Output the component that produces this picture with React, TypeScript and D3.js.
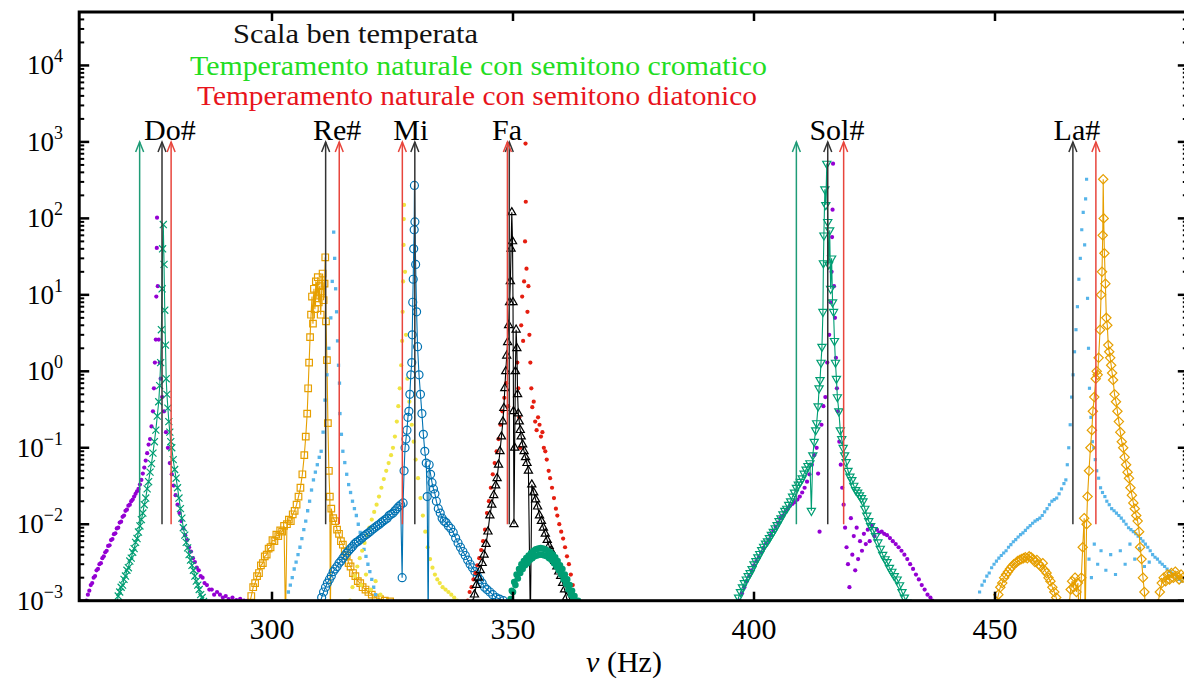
import React, { useEffect, useRef } from "react";
import * as d3 from "d3";

// --- data: [frequency (Hz), amplitude] ---
const DO_PURPLE = [
  [261.5, 1.0e-3], [261.8, 1.2e-3], [262.1, 1.35e-3], [262.4, 1.6e-3], [262.7, 1.7e-3], [263.0, 2.0e-3],
  [263.3, 2.1e-3], [263.6, 2.5e-3], [263.9, 2.6e-3], [264.2, 3.0e-3], [264.5, 3.1e-3], [264.8, 3.6e-3],
  [265.1, 3.8e-3], [265.4, 4.3e-3], [265.7, 4.5e-3], [266.0, 5.2e-3], [266.3, 5.3e-3], [266.6, 6.2e-3],
  [266.9, 6.4e-3], [267.2, 7.4e-3], [267.5, 7.6e-3], [267.8, 8.8e-3], [268.1, 9.0e-3], [268.4, 1.05e-2],
  [268.7, 1.08e-2], [269.0, 1.25e-2], [269.3, 1.3e-2], [269.6, 1.5e-2], [269.9, 1.55e-2], [270.2, 1.75e-2],
  [270.5, 1.8e-2], [270.8, 2.0e-2], [271.1, 2.1e-2], [271.4, 2.3e-2], [271.7, 2.5e-2], [272.0, 2.7e-2],
  [272.3, 2.9e-2], [272.6, 3.3e-2], [272.9, 3.8e-2], [273.2, 4.6e-2], [273.5, 5.5e-2], [273.8, 6.8e-2],
  [274.1, 8.5e-2], [274.4, 0.11], [274.7, 0.13], [275.0, 0.19], [275.3, 0.3], [275.5, 0.6], [275.7, 1.3],
  [275.9, 2.6], [276.0, 9.5], [276.1, 41], [276.15, 102], [276.3, 13], [276.5, 2.6], [276.7, 1.3],
  [276.9, 0.8], [277.2, 0.46], [277.6, 0.3], [278.0, 0.16], [278.4, 0.1], [278.8, 0.063], [279.2, 0.045],
  [279.6, 0.032], [280.0, 0.024], [280.4, 0.018], [280.8, 0.014], [281.2, 0.011], [281.6, 0.0088],
  [282.0, 0.0072], [282.4, 0.0062], [282.8, 0.005], [283.2, 0.0044], [283.6, 0.0036], [284.0, 0.0032],
  [284.4, 0.0027], [284.8, 0.0025], [285.2, 0.0021], [285.6, 0.002], [286.0, 0.0017], [286.5, 0.0016],
  [287.0, 0.0014], [287.5, 0.0014], [288.0, 0.0012], [288.6, 0.0013], [289.2, 0.0012], [289.8, 0.0011],
  [290.4, 0.00115], [291.0, 0.00105], [291.8, 0.0011], [292.6, 0.00102], [293.4, 0.00106], [294.2, 0.001],
  [295.0, 0.001],
];

const DO_GREEN = [
  [267.8, 9e-4], [268.1, 1.15e-3], [268.4, 1.3e-3], [268.7, 1.5e-3], [269.0, 1.6e-3], [269.3, 1.9e-3],
  [269.6, 2.1e-3], [269.9, 2.5e-3], [270.2, 2.7e-3], [270.5, 3.3e-3], [270.8, 3.6e-3], [271.1, 4.3e-3],
  [271.4, 4.8e-3], [271.7, 5.8e-3], [272.0, 6.5e-3], [272.3, 7.9e-3], [272.6, 9.5e-3], [272.9, 1.15e-2],
  [273.2, 1.4e-2], [273.5, 1.8e-2], [273.8, 2.2e-2], [274.1, 2.9e-2], [274.4, 3.6e-2], [274.7, 4.8e-2],
  [275.0, 6.2e-2], [275.3, 0.085], [275.6, 0.12], [275.9, 0.17], [276.2, 0.26], [276.5, 0.4],
  [276.7, 0.65], [276.9, 1.3], [277.05, 3.5], [277.2, 12], [277.3, 40], [277.45, 83], [277.6, 25],
  [277.75, 6.3], [277.9, 2.2], [278.05, 0.8], [278.2, 0.5], [278.4, 0.33], [278.6, 0.22], [278.8, 0.16],
  [279.0, 0.12], [279.2, 0.1], [279.5, 0.07], [279.8, 0.052], [280.1, 0.04], [280.4, 0.03], [280.7, 0.022],
  [281.0, 0.016], [281.3, 0.012], [281.6, 0.009], [281.9, 0.0072], [282.2, 0.0058], [282.5, 0.0049],
  [282.8, 0.004], [283.1, 0.0034], [283.4, 0.0029], [283.7, 0.0025], [284.0, 0.0021], [284.3, 0.0018],
  [284.6, 0.0016], [284.9, 0.0014], [285.2, 0.0012], [285.5, 0.0011], [285.8, 0.00098], [286.1, 0.0009],
];

const RE_ORANGE = [
  [295.3, 9e-4], [295.7, 1.15e-3], [296.1, 1.5e-3], [296.5, 1.7e-3], [296.9, 2.1e-3], [297.3, 2.3e-3],
  [297.7, 2.9e-3], [298.1, 3.1e-3], [298.5, 3.8e-3], [298.9, 4.0e-3], [299.3, 4.8e-3], [299.7, 5.0e-3],
  [300.1, 6.2e-3], [300.5, 6.0e-3], [300.9, 7.3e-3], [301.3, 7.0e-3], [301.7, 8.3e-3], [302.1, 8.0e-3],
  [302.5, 9.5e-3], [302.8, 5e-4], [303.1, 1.0e-2], [303.5, 1.15e-2], [303.9, 1.1e-2], [304.3, 1.35e-2],
  [304.7, 1.5e-2], [305.1, 1.8e-2], [305.5, 2.3e-2], [305.9, 3.0e-2], [306.3, 4.5e-2], [306.7, 8e-2],
  [307.0, 0.14], [307.3, 0.28], [307.5, 0.6], [307.7, 1.3], [307.9, 2.8], [308.1, 5.5], [308.3, 9.5],
  [308.5, 4.2], [308.7, 12], [308.9, 6.5], [309.1, 15], [309.3, 9], [309.5, 17], [309.7, 8], [309.9, 13],
  [310.1, 5.5], [310.3, 11], [310.5, 19], [310.7, 8.5], [310.9, 14], [311.05, 31], [311.2, 4.5],
  [311.4, 1.4], [311.6, 0.21], [311.8, 0.05], [312.0, 0.023], [312.1, 5e-4], [312.3, 0.016],
  [312.7, 0.012], [313.1, 0.011], [313.5, 0.0085], [313.9, 0.0075], [314.3, 0.006], [314.7, 0.0054],
  [315.1, 0.0044], [315.5, 0.0039], [315.9, 0.0031], [316.3, 0.0028], [316.8, 0.0023], [317.3, 0.0021],
  [317.8, 0.0018], [318.3, 0.0017], [318.8, 0.0015], [319.4, 0.0014], [320.0, 0.0013], [320.7, 0.0012],
  [321.5, 0.0011], [322.4, 0.00105], [323.4, 0.001], [324.5, 0.00098],
];

const RE_BLUE = [
  [303.0, 1e-3], [303.4, 1.3e-3], [303.8, 1.6e-3], [304.2, 2.0e-3], [304.6, 2.6e-3], [305.0, 3.2e-3],
  [305.4, 4.0e-3], [305.8, 5.0e-3], [306.2, 6.5e-3], [306.6, 8.5e-3], [307.0, 1.1e-2], [307.4, 1.5e-2],
  [307.8, 2.0e-2], [308.2, 2.8e-2], [308.6, 3.8e-2], [309.0, 4.8e-2], [309.4, 6.0e-2], [309.8, 7.5e-2],
  [310.2, 0.09], [310.6, 0.16], [311.0, 0.42], [311.4, 0.9], [311.8, 2], [312.2, 5], [312.5, 15],
  [312.8, 66], [313.0, 30], [313.2, 12], [313.4, 6], [313.6, 2.5], [313.8, 1.2], [314.0, 0.7],
  [314.1, 0.28], [314.4, 0.15], [314.7, 0.09], [315.1, 0.064], [315.5, 0.045], [315.9, 0.033],
  [316.3, 0.026], [316.7, 0.02], [317.1, 0.016], [317.5, 0.013], [317.9, 0.01], [318.3, 0.0078],
  [318.7, 0.006], [319.1, 0.0047], [319.5, 0.0038], [319.9, 0.003], [320.3, 0.0024], [320.7, 0.0019],
  [321.1, 0.0015], [321.5, 0.0012], [321.9, 0.001],
];

const MI_YELLOW = [
  [316.2, 1e-3], [316.7, 1.5e-3], [317.2, 2.1e-3], [317.7, 2.8e-3], [318.2, 3.6e-3], [318.5, 1.6e-3],
  [318.7, 4.5e-3], [319.2, 5.7e-3], [319.5, 2.2e-3], [319.7, 7.2e-3], [320.2, 9e-3], [320.5, 1.4e-3],
  [320.7, 1.15e-2], [321.2, 1.45e-2], [321.5, 1.8e-3], [321.7, 1.8e-2], [322.2, 2.3e-2], [322.5, 1.2e-3],
  [322.7, 3e-2], [323.2, 3.9e-2], [323.7, 5e-2], [324.2, 6.3e-2], [324.7, 8e-2], [325.1, 0.1],
  [325.5, 0.14], [325.9, 0.22], [326.2, 0.35], [326.5, 0.6], [326.8, 1.2], [327.0, 2.5], [327.1, 6],
  [327.2, 15], [327.3, 45], [327.35, 98], [327.4, 150], [327.6, 20], [327.8, 3], [328.1, 0.8],
  [328.5, 0.4], [329.0, 0.2], [329.4, 0.12], [329.8, 0.07], [330.3, 0.04], [330.8, 0.022], [331.3, 0.013],
  [331.8, 0.008], [332.3, 0.005], [332.8, 0.0035], [333.3, 0.0027], [333.8, 0.0022], [334.3, 0.0019],
  [334.8, 0.0017], [335.4, 0.0015], [336.0, 0.0014], [336.6, 0.0013], [337.2, 0.0012], [337.8, 0.0011],
  [338.4, 0.001],
];

const MI_BLUE = [
  [309.9, 9e-4], [310.3, 1.1e-3], [310.7, 1.3e-3], [311.1, 1.5e-3], [311.5, 1.7e-3], [311.9, 1.9e-3],
  [312.3, 2.1e-3], [312.7, 2.4e-3], [313.1, 2.6e-3], [313.5, 2.8e-3], [313.9, 3.1e-3], [314.3, 3.3e-3],
  [314.7, 3.6e-3], [315.1, 3.9e-3], [315.5, 4.2e-3], [315.9, 4.5e-3], [316.3, 4.8e-3], [316.7, 5.1e-3],
  [317.1, 5.5e-3], [317.5, 5.8e-3], [317.9, 6.0e-3], [318.3, 6.3e-3], [318.7, 6.6e-3], [319.1, 7.0e-3],
  [319.5, 7.3e-3], [319.9, 7.6e-3], [320.3, 8.0e-3], [320.7, 8.4e-3], [321.1, 8.8e-3], [321.5, 9.2e-3],
  [321.9, 9.6e-3], [322.3, 1.0e-2], [322.7, 1.05e-2], [323.1, 1.1e-2], [323.5, 1.15e-2], [323.9, 1.2e-2],
  [324.3, 1.3e-2], [324.7, 1.35e-2], [325.1, 1.4e-2], [325.5, 1.5e-2], [325.9, 1.6e-2], [326.3, 1.7e-2],
  [326.7, 1.8e-2], [327.0, 2.0e-3], [327.2, 1.9e-2], [327.4, 0.05], [327.6, 0.1], [327.8, 0.13],
  [328.0, 0.17], [328.2, 0.25], [328.4, 0.3], [328.6, 0.5], [328.8, 0.9], [329.0, 1.3], [329.1, 3],
  [329.2, 8], [329.3, 16], [329.4, 40], [329.5, 71], [329.55, 270], [329.65, 90], [329.8, 25], [330.0, 6],
  [330.2, 2.1], [330.5, 0.9], [330.8, 0.5], [331.1, 0.28], [331.4, 0.15], [331.7, 0.09], [332.0, 0.063],
  [332.2, 0.023], [332.4, 5e-4], [332.6, 0.06], [332.9, 0.045], [333.2, 0.035], [333.5, 0.029],
  [333.8, 0.025], [334.1, 0.02], [334.5, 0.016], [334.9, 0.014], [335.3, 0.012], [335.7, 0.011],
  [336.1, 0.0105], [336.6, 0.0095], [337.1, 0.0088], [337.6, 0.0078], [338.1, 0.0066], [338.6, 0.0057],
  [339.1, 0.005], [339.6, 0.0044], [340.1, 0.0039], [340.6, 0.0034], [341.1, 0.003], [341.6, 0.0027],
  [342.1, 0.0024], [342.6, 0.0021], [343.1, 0.0019], [343.6, 0.0017], [344.1, 0.0015], [344.6, 0.0014],
  [345.2, 0.0013], [345.8, 0.0012], [346.5, 0.0011], [347.2, 0.00105], [348.0, 0.001], [348.7, 0.0009],
];

const FA_RED = [
  [340.6, 1e-3], [341.0, 1.3e-3], [341.4, 1.5e-3], [341.8, 1.9e-3], [342.2, 2.3e-3], [342.6, 2.9e-3],
  [343.0, 3.6e-3], [343.4, 4.6e-3], [343.8, 6e-3], [344.2, 8.5e-3], [344.6, 1.4e-2], [345.0, 2e-2],
  [345.4, 3e-2], [345.8, 4.5e-2], [346.2, 6.3e-2], [346.6, 0.09], [347.0, 0.13], [347.4, 0.2],
  [347.8, 0.3], [348.2, 0.45], [348.6, 0.7], [349.0, 0.35], [350.9, 1.3], [351.1, 0.6], [351.3, 0.25],
  [351.5, 0.1], [351.7, 4], [351.9, 9.5], [352.1, 2.5], [352.3, 15], [352.5, 50], [352.6, 950],
  [352.65, 165], [352.8, 22], [353.0, 6], [353.2, 13], [353.4, 3], [353.6, 1.3], [353.8, 0.6],
  [354.0, 0.34], [354.3, 0.4], [354.6, 0.22], [354.9, 0.17], [355.2, 0.25], [355.5, 0.2], [355.8, 0.14],
  [356.1, 0.16], [356.4, 0.1], [356.7, 0.09], [357.0, 0.07], [357.4, 0.05], [357.7, 0.04], [358.1, 0.03],
  [358.5, 0.022], [358.9, 0.016], [359.2, 0.013], [359.6, 0.01], [360.0, 0.008], [360.4, 0.0065],
  [360.8, 0.005], [361.2, 0.0038], [361.6, 0.003], [362.0, 0.0022], [362.4, 0.0016], [362.8, 0.0011],
];

const FA_BLACK = [
  [341.6, 9e-4], [342.0, 1.2e-3], [342.4, 1.6e-3], [342.8, 2.0e-3], [343.2, 2.5e-3], [343.6, 3.1e-3],
  [344.0, 4.0e-3], [344.4, 5.5e-3], [344.8, 8e-3], [345.2, 1.3e-2], [345.6, 1.8e-2], [346.0, 2.4e-2],
  [346.4, 3.2e-2], [346.7, 4.0e-2], [347.0, 6e-2], [347.3, 0.09], [347.6, 0.14], [347.9, 0.22],
  [348.1, 0.33], [348.3, 0.6], [348.5, 1.0], [348.7, 1.6], [348.9, 2.4], [349.1, 4], [349.3, 8],
  [349.45, 15], [349.6, 40], [349.75, 120], [349.9, 50], [350.0, 8], [350.1, 0.3], [350.2, 0.01],
  [350.35, 0.1], [350.5, 1.0], [350.65, 3.5], [350.8, 2.0], [350.95, 0.5], [351.1, 0.28], [351.3, 0.22],
  [351.5, 0.17], [351.7, 0.14], [352.0, 0.11], [352.3, 0.09], [352.6, 0.075], [352.9, 0.063],
  [353.2, 0.05], [353.6, 5e-4], [353.9, 0.033], [354.3, 0.026], [354.7, 0.021], [355.1, 0.017],
  [355.5, 0.013], [355.9, 0.011], [356.3, 0.009], [356.7, 0.0075], [357.1, 0.0062], [357.5, 0.0052],
  [357.9, 0.0045], [358.3, 0.0038], [358.7, 0.0033], [359.1, 0.0028], [359.5, 0.0024], [359.9, 0.0021],
  [360.3, 0.0017], [360.7, 0.0014], [361.1, 0.0011], [361.4, 0.0009],
];

const FA_GREEN = [
  [349.5, 1.05e-3], [349.75, 1.35e-3], [350.0, 1.3e-3], [350.25, 1.75e-3], [350.5, 1.6e-3], [350.75, 2.2e-3],
  [351.0, 1.95e-3], [351.25, 2.6e-3], [351.5, 2.3e-3], [351.75, 3.0e-3], [352.0, 2.6e-3], [352.25, 3.3e-3],
  [352.5, 2.9e-3], [352.75, 3.6e-3], [353.0, 3.1e-3], [353.25, 3.9e-3], [353.5, 3.4e-3], [353.75, 4.2e-3],
  [354.0, 3.6e-3], [354.25, 4.5e-3], [354.5, 3.8e-3], [354.75, 4.7e-3], [355.0, 3.9e-3], [355.25, 4.8e-3],
  [355.5, 4.0e-3], [355.75, 4.9e-3], [356.0, 4.0e-3], [356.25, 4.8e-3], [356.5, 3.9e-3], [356.75, 4.7e-3],
  [357.0, 3.8e-3], [357.25, 4.5e-3], [357.5, 3.6e-3], [357.75, 4.3e-3], [358.0, 3.4e-3], [358.25, 4.0e-3],
  [358.5, 3.1e-3], [358.75, 3.7e-3], [359.0, 2.8e-3], [359.25, 3.3e-3], [359.5, 2.5e-3], [359.75, 2.9e-3],
  [360.0, 2.2e-3], [360.25, 2.6e-3], [360.5, 1.9e-3], [360.75, 2.2e-3], [361.0, 1.65e-3], [361.25, 1.9e-3],
  [361.5, 1.4e-3], [361.75, 1.6e-3], [362.0, 1.2e-3], [362.25, 1.35e-3], [362.5, 1.05e-3], [362.75, 1.15e-3],
  [363.0, 9.5e-4], [363.5, 1.0e-3], [363.75, 9e-4],
];

const SOL_PURPLE = [
  [397.0, 1e-3], [397.5, 1.25e-3], [398.0, 1.5e-3], [398.5, 1.8e-3], [399.0, 2.1e-3], [399.5, 2.5e-3],
  [400.0, 2.9e-3], [400.5, 3.3e-3], [401.0, 3.7e-3], [401.5, 4.3e-3], [402.0, 4.9e-3], [402.5, 5.6e-3],
  [403.0, 6.3e-3], [403.5, 7.2e-3], [404.0, 8.2e-3], [404.5, 9.3e-3], [405.0, 1.05e-2], [405.5, 1.2e-2],
  [406.0, 1.3e-2], [406.5, 1.45e-2], [407.0, 1.6e-2], [407.5, 1.75e-2], [408.0, 1.85e-2], [408.5, 1.95e-2],
  [409.0, 2.1e-2], [409.5, 2.3e-2], [410.0, 2.6e-2], [410.5, 3e-2], [411.0, 3.6e-2], [411.5, 4.5e-2],
  [412.0, 6e-2], [412.5, 0.08], [413.0, 0.1], [413.3, 0.046], [413.6, 0.008], [414.0, 0.2], [414.4, 0.35],
  [414.8, 0.46], [415.2, 1.3], [415.6, 3], [415.9, 8], [416.1, 20], [416.2, 57], [416.3, 130], [416.4, 520],
  [416.6, 13], [416.8, 5], [417.0, 1.5], [417.2, 0.6], [417.4, 0.3], [417.7, 0.12], [418.0, 0.06],
  [418.3, 0.03], [418.6, 0.018], [418.9, 0.009], [419.2, 0.005], [419.5, 0.003], [419.8, 0.0015],
  [420.1, 0.012], [420.4, 0.004], [420.7, 0.007], [421.0, 0.0025], [421.3, 0.009], [421.6, 0.0035],
  [422.0, 0.006], [422.4, 0.0045], [422.8, 0.0075], [423.2, 0.0055], [423.6, 0.0085], [424.0, 0.006],
  [424.5, 0.0095], [425.0, 0.007], [425.5, 0.0085], [426.0, 0.0078], [426.5, 0.008], [427.0, 0.0075],
  [427.6, 0.0072], [428.2, 0.0066], [428.8, 0.006], [429.4, 0.0055], [430.0, 0.005], [430.6, 0.0045],
  [431.2, 0.004], [431.8, 0.0035], [432.4, 0.003], [433.0, 0.0026], [433.6, 0.0022], [434.2, 0.0019],
  [434.8, 0.0016], [435.4, 0.0014], [436.0, 0.0012], [436.6, 0.0011], [437.0, 0.001],
];

const SOL_GREEN = [
  [396.4, 9e-4], [396.8, 1.1e-3], [397.2, 1.3e-3], [397.6, 1.5e-3], [398.0, 1.7e-3], [398.4, 1.9e-3],
  [398.8, 2.1e-3], [399.2, 2.3e-3], [399.6, 2.6e-3], [400.0, 3.0e-3], [400.4, 3.3e-3], [400.8, 3.7e-3],
  [401.2, 4.1e-3], [401.6, 4.6e-3], [402.0, 5.1e-3], [402.4, 5.6e-3], [402.8, 6.0e-3], [403.2, 6.6e-3],
  [403.6, 7.3e-3], [404.0, 8.0e-3], [404.4, 8.9e-3], [404.8, 9.8e-3], [405.2, 1.1e-2], [405.6, 1.2e-2],
  [406.0, 1.35e-2], [406.4, 1.5e-2], [406.8, 1.6e-2], [407.2, 1.8e-2], [407.6, 2.0e-2], [408.0, 2.3e-2],
  [408.4, 2.6e-2], [408.8, 3.0e-2], [409.2, 3.3e-2], [409.6, 3.6e-2], [410.0, 4.0e-2], [410.4, 4.6e-2],
  [410.8, 5.2e-2], [411.2, 5.8e-2], [411.6, 6.3e-2], [411.9, 0.015], [412.2, 0.08], [412.5, 0.12],
  [412.8, 0.17], [413.0, 0.21], [413.3, 0.35], [413.5, 0.6], [413.7, 0.77], [413.9, 1.3], [414.1, 2.1],
  [414.3, 6], [414.4, 26], [414.5, 60], [414.7, 240], [414.9, 150], [415.1, 520], [415.3, 90],
  [415.5, 25], [415.7, 70], [415.9, 12], [416.1, 30], [416.3, 8], [416.5, 6], [416.7, 2.5], [416.9, 1.3],
  [417.1, 0.8], [417.3, 0.46], [417.6, 0.3], [417.9, 0.17], [418.2, 0.13], [418.5, 0.1], [418.8, 0.08],
  [419.1, 0.065], [419.5, 0.05], [419.9, 0.042], [420.3, 0.038], [420.7, 0.032], [421.1, 0.028],
  [421.5, 0.026], [421.9, 0.024], [422.3, 0.022], [422.6, 0.02], [423.0, 0.016], [423.4, 0.013],
  [423.8, 0.011], [424.2, 0.0095], [424.7, 0.0084], [425.2, 0.007], [425.7, 0.0058], [426.2, 0.0048],
  [426.7, 0.004], [427.2, 0.0035], [427.6, 0.0032], [428.1, 0.0027], [428.6, 0.0024], [429.1, 0.0021],
  [429.7, 0.0019], [430.2, 0.0016], [430.7, 0.0013], [431.2, 0.0011], [431.7, 0.00095],
];

const LA_BLUE = [
  [446.3, 1e-3], [446.8, 1.3e-3], [447.3, 1.6e-3], [447.8, 1.8e-3], [448.3, 2.1e-3], [448.8, 2.3e-3],
  [449.3, 2.7e-3], [449.8, 3.0e-3], [450.3, 3.3e-3], [450.8, 3.6e-3], [451.3, 3.9e-3], [451.8, 4.2e-3],
  [452.3, 4.5e-3], [452.8, 5.0e-3], [453.3, 5.4e-3], [453.8, 5.9e-3], [454.3, 6.3e-3], [454.8, 6.8e-3],
  [455.3, 7.3e-3], [455.8, 7.7e-3], [456.3, 8.3e-3], [456.8, 9.0e-3], [457.3, 9.6e-3], [457.8, 1.03e-2],
  [458.3, 1.1e-2], [458.8, 1.15e-2], [459.3, 1.2e-2], [459.8, 1.3e-2], [460.3, 1.45e-2], [460.8, 1.6e-2],
  [461.3, 1.8e-2], [461.8, 2.0e-2], [462.3, 2.1e-2], [462.8, 2.2e-2], [463.3, 2.5e-2], [463.8, 2.9e-2],
  [464.3, 3.4e-2], [464.7, 3.8e-2], [465.0, 0.06], [465.3, 0.1], [465.6, 0.2], [465.9, 0.46], [466.2, 0.9],
  [466.5, 1.8], [466.8, 3.5], [467.1, 7], [467.4, 16], [467.7, 30], [468.0, 71], [468.3, 120], [468.6, 45],
  [468.8, 180], [469.0, 325], [469.2, 9], [469.4, 2], [469.5, 0.0035], [469.6, 0.6], [469.9, 0.25],
  [470.0, 0.002], [470.2, 0.12], [470.5, 0.1], [470.6, 0.0055], [470.8, 0.07], [471.1, 0.05],
  [471.3, 0.003], [471.5, 0.04], [471.9, 0.03], [472.0, 0.0045], [472.3, 0.026], [472.8, 0.023],
  [473.0, 0.0025], [473.2, 0.02], [473.7, 0.018], [474.0, 0.004], [474.2, 0.016], [474.7, 0.015],
  [475.0, 0.0022], [475.2, 0.014], [475.7, 0.013], [476.0, 0.0045], [476.2, 0.012], [476.7, 0.011],
  [477.0, 0.003], [477.2, 0.01], [477.7, 0.009], [478.0, 0.0055], [478.2, 0.0085], [478.7, 0.008],
  [479.0, 0.0035], [479.2, 0.0075], [479.7, 0.007], [480.0, 0.0048], [480.2, 0.0065], [480.7, 0.006],
  [481.0, 0.0028], [481.2, 0.0055], [481.7, 0.005], [482.0, 0.0032], [482.2, 0.0045], [482.7, 0.004],
  [483.2, 0.0037], [483.7, 0.0035], [484.2, 0.0032], [484.7, 0.003], [485.2, 0.0028], [485.7, 0.0026],
  [486.2, 0.0024], [486.7, 0.0023], [487.2, 0.0022], [487.7, 0.002], [488.2, 0.0019], [488.7, 0.0018],
];

const LA_ORANGE = [
  [450.3, 9e-4], [450.7, 1.2e-3], [451.1, 1.5e-3], [451.5, 1.7e-3], [451.9, 2.0e-3], [452.3, 2.2e-3],
  [452.7, 2.4e-3], [453.1, 2.6e-3], [453.5, 2.8e-3], [453.9, 3.0e-3], [454.3, 3.1e-3], [454.7, 3.3e-3],
  [455.1, 3.4e-3], [455.5, 3.5e-3], [455.9, 3.6e-3], [456.3, 3.7e-3], [456.7, 3.6e-3], [457.1, 3.8e-3],
  [457.5, 3.7e-3], [457.9, 3.5e-3], [458.3, 3.2e-3], [458.7, 3.4e-3], [459.1, 3.0e-3], [459.5, 2.8e-3],
  [459.9, 3.1e-3], [460.3, 2.5e-3], [460.7, 2.3e-3], [461.1, 2.0e-3], [461.5, 1.8e-3], [461.9, 1.5e-3],
  [462.3, 1.3e-3], [462.7, 1.1e-3], [463.0, 9e-4], [465.4, 9e-4], [465.7, 1.4e-3], [466.0, 1.8e-3],
  [466.3, 1.5e-3], [466.6, 2.0e-3], [466.9, 1.3e-3], [467.2, 1.7e-3], [467.5, 5e-4], [467.9, 2e-3],
  [468.2, 5e-3], [468.5, 1.2e-2], [468.7, 5e-4], [469.0, 1e-2], [469.2, 0.023], [469.5, 0.05],
  [469.8, 0.1], [470.1, 0.17], [470.3, 0.3], [470.6, 0.46], [470.9, 0.8], [471.1, 1.0], [471.3, 0.9],
  [471.5, 1.5], [471.8, 3.5], [472.0, 10], [472.2, 20], [472.35, 60], [472.45, 325], [472.55, 100],
  [472.7, 35], [472.9, 14], [473.1, 5], [473.3, 4], [473.5, 2.2], [473.7, 1.8], [473.9, 1.5], [474.1, 1.2],
  [474.3, 0.95], [474.5, 0.77], [474.8, 0.5], [475.1, 0.4], [475.4, 0.3], [475.7, 0.22], [476.0, 0.16],
  [476.3, 0.12], [476.6, 0.1], [476.9, 0.075], [477.2, 0.06], [477.5, 0.048], [477.8, 0.04], [478.1, 0.03],
  [478.4, 0.024], [478.7, 0.019], [479.0, 0.016], [479.3, 0.013], [479.6, 0.011], [479.9, 0.008],
  [480.1, 0.005], [480.4, 0.0035], [480.7, 0.002], [481.0, 0.0013], [481.2, 8e-4], [483.8, 9e-4],
  [484.2, 1.3e-3], [484.6, 1.7e-3], [485.0, 2.0e-3], [485.4, 1.8e-3], [485.8, 2.2e-3], [486.2, 1.9e-3],
  [486.6, 2.3e-3], [487.0, 2.0e-3], [487.4, 2.4e-3], [487.8, 2.1e-3], [488.2, 1.9e-3], [488.6, 2.2e-3],
  [489.0, 2.0e-3],
];

// theoretical frequencies (arrows)
const ARROW_ET = [277.18, 311.13, 329.63, 349.23, 415.3, 466.16];
const ARROW_CROM = [272.54, 408.79];
const ARROW_DIAT = [279.07, 313.95, 327.04, 348.84, 418.6, 470.93];
const NOTE_NAMES = ["Do#", "Re#", "Mi", "Fa", "Sol#", "La#"];
const NOTE_POS = [278.8, 313.5, 328.8, 348.75, 417.2, 467.0];
const LEGEND = [
  "Scala ben temperata",
  "Temperamento naturale con semitono cromatico",
  "Temperamento naturale con semitono diatonico",
];
const X_TICKS = [300, 350, 400, 450];
const Y_EXP = [-3, -2, -1, 0, 1, 2, 3, 4];

const FONT = "'Liberation Serif', 'Times New Roman', serif";

const App = () => {
  const ref = useRef(null);

  useEffect(() => {
    const svg = d3.select(ref.current);
    svg.selectAll("*").remove();

    const left = 79.2, right = 1187.8, top = 12, bottom = 600.7;
    const x = d3.scaleLinear().domain([260, 490]).range([left, right]);
    const y = d3.scaleLog().domain([1e-3, 5e4]).range([bottom, top]);

    svg.append("defs").append("clipPath").attr("id", "plotclip")
      .append("rect").attr("x", left).attr("y", top)
      .attr("width", right - left).attr("height", bottom - top);

    const g = svg.append("g").attr("clip-path", "url(#plotclip)");

    const series = [
      { data: DO_PURPLE, color: "#9400d3", sym: d3.symbolCircle, size: 14, fill: true },
      { data: DO_GREEN, color: "#009e73", sym: d3.symbolTimes, size: 34, line: true },
      { data: RE_ORANGE, color: "#e69f00", sym: d3.symbolSquare2, size: 55, line: true },
      { data: RE_BLUE, color: "#56b4e9", sym: d3.symbolSquare, size: 11, fill: true },
      { data: MI_YELLOW, color: "#f0e442", sym: d3.symbolCircle, size: 14, fill: true },
      { data: MI_BLUE, color: "#0072b2", sym: d3.symbolCircle, size: 50, line: true },
      { data: FA_RED, color: "#e51e10", sym: d3.symbolCircle, size: 14, fill: true },
      { data: FA_BLACK, color: "#000000", sym: d3.symbolTriangle2, size: 48, line: true },
      { data: FA_GREEN, color: "#009e73", sym: d3.symbolCircle, size: 34, fill: true },
      { data: SOL_PURPLE, color: "#9400d3", sym: d3.symbolCircle, size: 14, fill: true },
      { data: SOL_GREEN, color: "#009e73", sym: d3.symbolTriangle2, size: 48, line: true, flip: true },
      { data: LA_BLUE, color: "#56b4e9", sym: d3.symbolSquare, size: 10, fill: true },
      { data: LA_ORANGE, color: "#e69f00", sym: d3.symbolDiamond2, size: 55, line: true },
    ];

    const line = d3.line().x(d => x(d[0])).y(d => y(d[1]));

    series.forEach(s => {
      if (s.line) {
        g.append("path").datum(s.data)
          .attr("d", line)
          .attr("fill", "none")
          .attr("stroke", s.color)
          .attr("stroke-width", 1.1);
      }
      const shape = d3.symbol(s.sym, s.size)();
      g.append("g").selectAll("path")
        .data(s.data)
        .join("path")
        .attr("d", shape)
        .attr("transform", d => `translate(${x(d[0])},${y(d[1])})${s.flip ? " rotate(180)" : ""}`)
        .attr("fill", s.fill ? s.color : "none")
        .attr("stroke", s.fill ? "none" : s.color)
        .attr("stroke-width", 1.2);
    });

    // arrows
    const arrows = svg.append("g");
    const drawArrows = (freqs, color) => {
      freqs.forEach(f => {
        const ax = x(f), y0 = y(1e-2), y1 = y(1e3);
        arrows.append("line").attr("x1", ax).attr("x2", ax).attr("y1", y0).attr("y2", y1)
          .attr("stroke", color).attr("stroke-width", 1.5);
        arrows.append("path")
          .attr("d", `M${ax - 4},${y1 + 10}L${ax},${y1}L${ax + 4},${y1 + 10}`)
          .attr("fill", "none").attr("stroke", color).attr("stroke-width", 1.5);
      });
    };
    drawArrows(ARROW_CROM, "#1f9c77");
    drawArrows(ARROW_ET, "#333333");
    drawArrows(ARROW_DIAT, "#e8453c");

    // note labels
    svg.append("g").selectAll("text")
      .data(NOTE_NAMES)
      .join("text")
      .attr("x", (d, i) => x(NOTE_POS[i]))
      .attr("y", 140)
      .attr("text-anchor", "middle")
      .style("font-family", FONT)
      .style("font-size", "30px")
      .text(d => d);

    // legend lines
    const legendX = [233, 190, 197];
    const legendW = [245, 577, 560];
    const legendY = [43, 75, 105];
    const legendC = ["#111111", "#22dd22", "#e8141c"];
    svg.append("g").selectAll("text")
      .data(LEGEND)
      .join("text")
      .attr("x", (d, i) => legendX[i])
      .attr("y", (d, i) => legendY[i])
      .attr("textLength", (d, i) => legendW[i])
      .attr("lengthAdjust", "spacingAndGlyphs")
      .attr("fill", (d, i) => legendC[i])
      .style("font-family", FONT)
      .style("font-size", "28px")
      .text(d => d);

    // frame
    const ax = svg.append("g");
    ax.append("rect").attr("x", left).attr("y", top)
      .attr("width", right - left).attr("height", bottom - top)
      .attr("fill", "none").attr("stroke", "#000").attr("stroke-width", 3);

    // y ticks (log, both sides)
    Y_EXP.forEach(e => {
      const ty = y(Math.pow(10, e));
      ax.append("line").attr("x1", left).attr("x2", left + 10).attr("y1", ty).attr("y2", ty)
        .attr("stroke", "#000").attr("stroke-width", 2.5);
      ax.append("line").attr("x1", right).attr("x2", right - 10).attr("y1", ty).attr("y2", ty)
        .attr("stroke", "#000").attr("stroke-width", 2.5);
      const kmax = e < 4 ? 9 : 5;
      for (let k = 2; k <= kmax; k++) {
        const my = y(k * Math.pow(10, e));
        if (my < top + 1) continue;
        ax.append("line").attr("x1", left).attr("x2", left + 5).attr("y1", my).attr("y2", my)
          .attr("stroke", "#000").attr("stroke-width", 2);
        ax.append("line").attr("x1", right).attr("x2", right - 5).attr("y1", my).attr("y2", my)
          .attr("stroke", "#000").attr("stroke-width", 2);
      }
      const t = ax.append("text").attr("x", 63).attr("y", ty + 9)
        .attr("text-anchor", "end")
        .style("font-family", FONT).style("font-size", "27px");
      t.append("tspan").text("10");
      t.append("tspan").attr("dy", -12).style("font-size", "18px")
        .text(e < 0 ? "\u2212" + Math.abs(e) : String(e));
    });

    // x ticks
    X_TICKS.forEach(v => {
      const tx = x(v);
      ax.append("line").attr("x1", tx).attr("x2", tx).attr("y1", bottom).attr("y2", bottom - 9)
        .attr("stroke", "#000").attr("stroke-width", 2.5);
      ax.append("line").attr("x1", tx).attr("x2", tx).attr("y1", top).attr("y2", top + 9)
        .attr("stroke", "#000").attr("stroke-width", 2.5);
      ax.append("text").attr("x", tx).attr("y", 639)
        .attr("text-anchor", "middle")
        .style("font-family", FONT).style("font-size", "30px")
        .text(v);
    });

    // axis title
    const xt = ax.append("text").attr("x", 624).attr("y", 672)
      .attr("text-anchor", "middle")
      .style("font-family", FONT).style("font-size", "30px");
    xt.append("tspan").style("font-style", "italic").text("\u03bd");
    xt.append("tspan").text(" (Hz)");
  }, []);

  return (
    <div>
      <svg ref={ref} width="1184" height="680"
        style={{ position: "absolute", left: 0, top: 0, background: "#fff" }}></svg>
    </div>
  );
};

export default App;
